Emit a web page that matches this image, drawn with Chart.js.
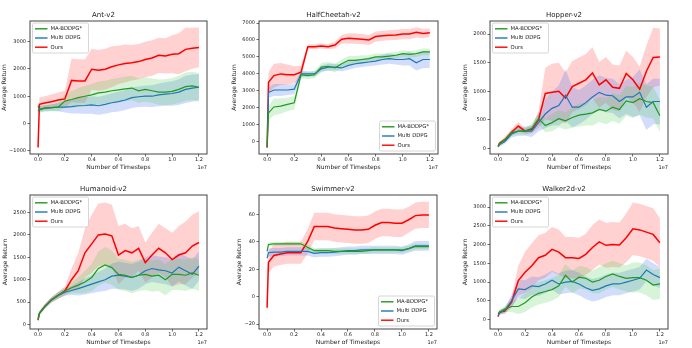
<!DOCTYPE html>
<html>
<head>
<meta charset="utf-8">
<script src="https://cdn.jsdelivr.net/npm/chart.js@4.4.1/dist/chart.umd.min.js"></script>
<style>
  html, body { margin: 0; padding: 0; background: #fff; }
  #page { position: relative; width: 692px; height: 348px; overflow: hidden; background: #fff; }
  #page canvas { position: absolute; }
</style>
</head>
<body>
<div id="page"></div>
<script>
// x positions in units of 1e7 timesteps
const timesteps = [0, 0.01, 0.05, 0.1, 0.15, 0.2, 0.25, 0.3, 0.35, 0.4, 0.45, 0.5, 0.55, 0.6, 0.65, 0.7, 0.75, 0.8, 0.85, 0.9, 0.95, 1.0, 1.05, 1.1, 1.15, 1.2];
const xTicks = [0, 0.2, 0.4, 0.6, 0.8, 1.0, 1.2];
const seriesNames = ['MA-BDDPG*', 'Multi DDPG', 'Ours'];

// Ant-v2
const antMaBddpg = [650, 500, 560, 580, 600, 820, 880, 950, 1000, 1050, 1120, 1150, 1200, 1230, 1270, 1300, 1200, 1250, 1200, 1150, 1150, 1180, 1250, 1350, 1380, 1330];
const antMaBddpgStd = [100, 120, 120, 130, 150, 250, 300, 350, 380, 400, 420, 420, 430, 440, 450, 450, 450, 450, 450, 460, 470, 480, 500, 520, 520, 520];
const antMultiDdpg = [450, 520, 560, 580, 600, 600, 620, 650, 660, 680, 650, 700, 760, 800, 860, 950, 980, 1000, 1000, 1050, 1080, 1100, 1150, 1250, 1300, 1330];
const antMultiDdpgStd = [100, 100, 110, 120, 150, 200, 250, 280, 300, 320, 330, 340, 350, 360, 370, 380, 380, 390, 400, 420, 430, 450, 470, 500, 500, 480];
const antOurs = [-880, 700, 750, 800, 860, 900, 1580, 1560, 1560, 1990, 1950, 1990, 2080, 2150, 2200, 2230, 2270, 2350, 2400, 2500, 2480, 2540, 2560, 2720, 2760, 2790];
const antOursStd = [100, 250, 250, 260, 280, 300, 800, 800, 800, 750, 750, 750, 750, 700, 700, 650, 650, 650, 650, 650, 650, 700, 750, 800, 750, 730];
const antYTicks = [-1000, 0, 1000, 2000, 3000];

// HalfCheetah-v2
const hcMaBddpg = [-300, 1700, 2050, 2100, 2200, 2300, 3950, 3900, 3950, 4400, 4450, 4350, 4600, 4800, 4800, 4850, 4900, 5000, 5000, 5050, 5100, 5200, 5150, 5200, 5300, 5300];
const hcMaBddpgStd = [100, 400, 500, 450, 400, 400, 200, 200, 200, 250, 250, 250, 250, 250, 250, 250, 200, 200, 200, 200, 200, 200, 200, 200, 200, 200];
const hcMultiDdpg = [-300, 2900, 3050, 3050, 3050, 3100, 4000, 4000, 4000, 4300, 4400, 4400, 4350, 4500, 4600, 4650, 4700, 4750, 4850, 4900, 4850, 4850, 4900, 4650, 4850, 4850];
const hcMultiDdpgStd = [100, 300, 350, 350, 300, 300, 200, 150, 150, 200, 200, 200, 200, 250, 250, 250, 250, 250, 300, 300, 300, 350, 400, 450, 500, 500];
const hcOurs = [-350, 3500, 3900, 4000, 3950, 3950, 4100, 5600, 5600, 5650, 5600, 5700, 6050, 6100, 6080, 6050, 6000, 6200, 6250, 6280, 6300, 6350, 6350, 6450, 6380, 6430];
const hcOursStd = [100, 600, 700, 650, 600, 500, 400, 150, 150, 150, 150, 200, 250, 300, 300, 300, 300, 300, 300, 300, 300, 300, 300, 300, 280, 250];
const hcYTicks = [0, 1000, 2000, 3000, 4000, 5000, 6000, 7000];

// Hopper-v2
const hopMaBddpg = [30, 80, 150, 270, 300, 300, 350, 520, 400, 450, 520, 480, 540, 580, 600, 620, 680, 650, 720, 680, 830, 800, 870, 820, 800, 570];
const hopMaBddpgStd = [20, 30, 40, 50, 60, 60, 80, 100, 120, 150, 150, 150, 180, 200, 200, 220, 220, 230, 240, 250, 260, 270, 280, 280, 280, 280];
const hopMultiDdpg = [30, 60, 120, 250, 300, 300, 300, 450, 600, 700, 750, 930, 720, 720, 800, 900, 980, 930, 920, 820, 900, 900, 980, 720, 820, 820];
const hopMultiDdpgStd = [20, 30, 40, 60, 80, 80, 100, 150, 250, 300, 350, 450, 350, 300, 300, 300, 300, 300, 300, 300, 300, 350, 400, 400, 400, 400];
const hopOurs = [30, 90, 150, 280, 390, 300, 330, 500, 960, 980, 1000, 880, 1080, 1140, 1200, 1320, 1110, 1200, 1070, 1050, 1310, 1200, 1035, 1350, 1590, 1600];
const hopOursStd = [20, 30, 50, 60, 70, 50, 60, 150, 450, 500, 500, 450, 450, 450, 450, 450, 400, 400, 400, 400, 400, 400, 400, 450, 520, 500];
const hopYTicks = [0, 500, 1000, 1500, 2000];

// Humanoid-v2
const humMaBddpg = [100, 250, 400, 550, 650, 750, 820, 880, 950, 1050, 1250, 1330, 1270, 1120, 1100, 1050, 1100, 1120, 1080, 1100, 1000, 1120, 1120, 1100, 1150, 1100];
const humMaBddpgStd = [30, 40, 50, 60, 70, 80, 120, 180, 250, 300, 380, 400, 380, 350, 350, 350, 350, 350, 350, 350, 350, 350, 350, 350, 350, 350];
const humMultiDdpg = [150, 250, 400, 550, 650, 720, 760, 800, 850, 900, 950, 1000, 1080, 1100, 1080, 1050, 1100, 1200, 1250, 1220, 1200, 1150, 1280, 1200, 1120, 1300];
const humMultiDdpgStd = [30, 40, 50, 60, 70, 80, 100, 150, 180, 200, 220, 250, 280, 300, 300, 300, 300, 300, 300, 300, 300, 300, 320, 330, 330, 330];
const humOurs = [100, 250, 400, 550, 650, 750, 1000, 1200, 1600, 1800, 2000, 2020, 1980, 1550, 1650, 1600, 1700, 1380, 1550, 1700, 1600, 1450, 1550, 1600, 1750, 1830];
const humOursStd = [30, 40, 50, 60, 80, 100, 250, 400, 550, 650, 700, 700, 700, 650, 600, 550, 500, 450, 500, 550, 550, 600, 650, 700, 700, 700];
const humYTicks = [0, 500, 1000, 1500, 2000, 2500];

// Swimmer-v2
const swMaBddpg = [33, 38, 38.5, 38.5, 38.5, 38.5, 38.5, 36, 33.5, 33.5, 33.5, 33, 33, 33, 33, 33, 33.5, 34, 34, 34, 34, 34, 35, 36.5, 36.5, 36.5];
const swMaBddpgStd = [1, 1.5, 1.5, 1.5, 1.5, 1.5, 1.5, 2, 2, 2, 2, 2, 2, 2, 2, 2, 2, 2, 2, 2, 2, 2, 2, 2, 2, 2];
const swMultiDdpg = [28, 32, 32.5, 32.5, 33, 33, 33, 33, 31.5, 32, 32, 32.5, 33, 33.5, 33.5, 34, 34, 34, 34, 34, 34, 33.5, 35, 37, 37, 37];
const swMultiDdpgStd = [2, 3, 3, 3, 3, 3, 3, 3, 3, 3, 3, 3, 3, 3, 3, 3, 3, 3, 3, 3, 3, 3, 3, 3.5, 3.5, 3.5];
const swOurs = [-8, 25, 30, 31, 32, 32, 32, 40, 51, 51, 51, 50, 49.5, 49, 48.5, 48.5, 49, 52, 54, 54, 53.5, 53.5, 56, 59, 59.5, 59.5];
const swOursStd = [3, 8, 8, 8, 8, 8, 8, 9, 10, 10, 10, 10, 10, 10, 10, 10, 10, 10, 10, 10, 10, 10, 9.5, 9.5, 9.5, 9.5];
const swYTicks = [-20, 0, 20, 40, 60];

// Walker2d-v2
const wkMaBddpg = [150, 200, 280, 350, 350, 450, 600, 700, 750, 800, 900, 1180, 1000, 1130, 1100, 1000, 1050, 1150, 1220, 1150, 1100, 1120, 1120, 1050, 920, 950];
const wkMaBddpgStd = [40, 60, 80, 150, 200, 250, 280, 300, 300, 300, 300, 300, 300, 300, 300, 300, 350, 350, 350, 350, 350, 400, 400, 400, 400, 400];
const wkMultiDdpg = [100, 180, 250, 500, 820, 800, 900, 880, 950, 1050, 950, 1000, 1020, 950, 850, 780, 820, 900, 950, 950, 1000, 1050, 1100, 1320, 1200, 1120];
const wkMultiDdpgStd = [40, 60, 80, 150, 250, 250, 250, 250, 250, 250, 280, 300, 300, 300, 300, 300, 300, 300, 300, 300, 300, 300, 300, 300, 300, 280];
const wkOurs = [80, 200, 230, 465, 1040, 1260, 1435, 1650, 1715, 1870, 1800, 1650, 1650, 1630, 1740, 1920, 2070, 1980, 2000, 1990, 2180, 2420, 2390, 2330, 2270, 2050];
const wkOursStd = [40, 60, 80, 150, 400, 550, 600, 600, 600, 600, 600, 550, 550, 550, 550, 600, 600, 600, 600, 600, 650, 700, 700, 700, 700, 650];
const wkYTicks = [0, 500, 1000, 1500, 2000, 2500, 3000];

const lineColors = ['#1f9a1f', '#1f77b4', '#ff0000'];
const fillColors = ['rgba(60, 200, 60, 0.2)', 'rgba(50, 100, 235, 0.22)', 'rgba(255, 0, 0, 0.18)'];
const lineWidths = [1.2, 1.2, 1.5];

const panels = [
    { title: 'Ant-v2', means: [antMaBddpg, antMultiDdpg, antOurs], stds: [antMaBddpgStd, antMultiDdpgStd, antOursStd],
      yTicks: antYTicks, yMin: -1120, yMax: 3760, legend: 'upper left', left: 30, top: 21, width: 177, height: 133, yTitlePad: 0.4 },
    { title: 'HalfCheetah-v2', means: [hcMaBddpg, hcMultiDdpg, hcOurs], stds: [hcMaBddpgStd, hcMultiDdpgStd, hcOursStd],
      yTicks: hcYTicks, yMin: -725, yMax: 7120, legend: 'lower right', left: 259, top: 21, width: 179, height: 133, yTitlePad: 1.4 },
    { title: 'Hopper-v2', means: [hopMaBddpg, hopMultiDdpg, hopOurs], stds: [hopMaBddpgStd, hopMultiDdpgStd, hopOursStd],
      yTicks: hopYTicks, yMin: -100, yMax: 2230, legend: 'upper left', left: 490, top: 21, width: 178, height: 133, yTitlePad: 1.4 },
    { title: 'Humanoid-v2', means: [humMaBddpg, humMultiDdpg, humOurs], stds: [humMaBddpgStd, humMultiDdpgStd, humOursStd],
      yTicks: humYTicks, yMin: -100, yMax: 2890, legend: 'upper left', left: 30, top: 195, width: 177, height: 134, yTitlePad: 1.4 },
    { title: 'Swimmer-v2', means: [swMaBddpg, swMultiDdpg, swOurs], stds: [swMaBddpgStd, swMultiDdpgStd, swOursStd],
      yTicks: swYTicks, yMin: -23.5, yMax: 74, legend: 'lower right', left: 259, top: 195, width: 178, height: 134, yTitlePad: 6.4 },
    { title: 'Walker2d-v2', means: [wkMaBddpg, wkMultiDdpg, wkOurs], stds: [wkMaBddpgStd, wkMultiDdpgStd, wkOursStd],
      yTicks: wkYTicks, yMin: -250, yMax: 3320, legend: 'upper left', left: 490, top: 195, width: 178, height: 134, yTitlePad: 1.4 },
];

const Y_AXIS_W = 30, X_AXIS_H = 18, TITLE_H = 12, RIGHT_PAD = 10;
const textColor = '#222';
const spineColor = '#444';

function tickLabel(v) {
    return v < 0 ? '\u2212' + Math.abs(v) : String(v);
}

// spines, offset text and legend box (matplotlib look)
const decorPlugin = {
    id: 'decor',
    afterDraw(chart, args, opts) {
        const ctx = chart.ctx;
        const a = chart.chartArea;
        ctx.save();
        ctx.strokeStyle = spineColor;
        ctx.lineWidth = 1;
        ctx.strokeRect(a.left, a.top, a.right - a.left, a.bottom - a.top);

        ctx.fillStyle = textColor;
        ctx.font = '5px "DejaVu Sans"';
        ctx.textAlign = 'right';
        ctx.textBaseline = 'middle';
        ctx.fillText('1e7', a.right, a.bottom + 13.5);

        const boxW = 56, boxH = 30;
        let bx, by;
        if (opts.where === 'upper left') {
            bx = a.left + 2.5; by = a.top + 2;
        } else {
            bx = a.right - 2.5 - boxW; by = a.bottom - 3 - boxH;
        }
        ctx.fillStyle = 'rgba(255,255,255,0.8)';
        ctx.strokeStyle = '#cccccc';
        ctx.lineWidth = 0.8;
        ctx.beginPath();
        ctx.roundRect(bx, by, boxW, boxH, 1.5);
        ctx.fill();
        ctx.stroke();
        ctx.font = '5.3px "DejaVu Sans"';
        ctx.textAlign = 'left';
        seriesNames.forEach((name, k) => {
            const yy = by + 5.8 + k * 9.2;
            ctx.strokeStyle = lineColors[k];
            ctx.lineWidth = 1.4;
            ctx.beginPath();
            ctx.moveTo(bx + 2.5, yy);
            ctx.lineTo(bx + 15, yy);
            ctx.stroke();
            ctx.fillStyle = textColor;
            ctx.fillText(name, bx + 18, yy);
        });
        ctx.restore();
    }
};

function buildDatasets(p) {
    const bands = [];
    const lines = [];
    p.means.forEach((mean, k) => {
        const std = p.stds[k];
        bands.push({
            data: timesteps.map((x, i) => ({ x: x, y: mean[i] + std[i] })),
            borderWidth: 0, pointRadius: 0, backgroundColor: fillColors[k],
            fill: '+1', order: 5
        });
        bands.push({
            data: timesteps.map((x, i) => ({ x: x, y: mean[i] - std[i] })),
            borderWidth: 0, pointRadius: 0, fill: false, order: 5
        });
        lines.push({
            label: seriesNames[k],
            data: timesteps.map((x, i) => ({ x: x, y: mean[i] })),
            borderColor: lineColors[k], borderWidth: lineWidths[k],
            pointRadius: 0, fill: false, tension: 0, order: 1
        });
    });
    return bands.concat(lines);
}

function drawPanel(p) {
    const canvas = document.createElement('canvas');
    const w = Y_AXIS_W + p.width + RIGHT_PAD;
    const h = TITLE_H + p.height + X_AXIS_H;
    canvas.width = w;
    canvas.height = h;
    canvas.style.left = (p.left - Y_AXIS_W) + 'px';
    canvas.style.top = (p.top - TITLE_H) + 'px';
    canvas.style.width = w + 'px';
    canvas.style.height = h + 'px';
    document.getElementById('page').appendChild(canvas);

    new Chart(canvas.getContext('2d'), {
        type: 'line',
        data: { datasets: buildDatasets(p) },
        options: {
            responsive: false,
            animation: false,
            devicePixelRatio: 1,
            layout: { padding: { top: 0, left: 0, bottom: 0, right: RIGHT_PAD } },
            scales: {
                x: {
                    type: 'linear', min: -0.06, max: 1.26,
                    afterFit: s => { s.height = X_AXIS_H; },
                    afterBuildTicks: s => { s.ticks = xTicks.map(v => ({ value: v })); },
                    ticks: { font: { size: 5 }, color: textColor, padding: 0.5, maxRotation: 0,
                             callback: v => v.toFixed(1) },
                    grid: { drawOnChartArea: false, tickLength: 2.5, color: spineColor, lineWidth: 0.8 },
                    border: { display: false },
                    title: { display: true, text: 'Number of Timesteps', color: textColor,
                             font: { size: 6 }, padding: { top: 0, bottom: 1.1 } }
                },
                y: {
                    type: 'linear', min: p.yMin, max: p.yMax,
                    afterFit: s => { s.width = Y_AXIS_W; },
                    afterBuildTicks: s => { s.ticks = p.yTicks.map(v => ({ value: v })); },
                    ticks: { font: { size: 5 }, color: textColor, padding: 1.5, callback: tickLabel },
                    grid: { drawOnChartArea: false, tickLength: 2.5, color: spineColor, lineWidth: 0.8 },
                    border: { display: false },
                    title: { display: true, text: 'Average Return', color: textColor,
                             font: { size: 6 }, padding: { top: p.yTitlePad, bottom: 0 } }
                }
            },
            plugins: {
                legend: { display: false },
                tooltip: { enabled: false },
                title: { display: true, text: p.title, color: textColor,
                         font: { size: 7, weight: 'normal' }, padding: { top: 2, bottom: 1.6 } },
                decor: { where: p.legend }
            }
        },
        plugins: [decorPlugin]
    });
}

Chart.defaults.font.family = '"DejaVu Sans", sans-serif';
panels.forEach(drawPanel);
</script>
</body>
</html>
